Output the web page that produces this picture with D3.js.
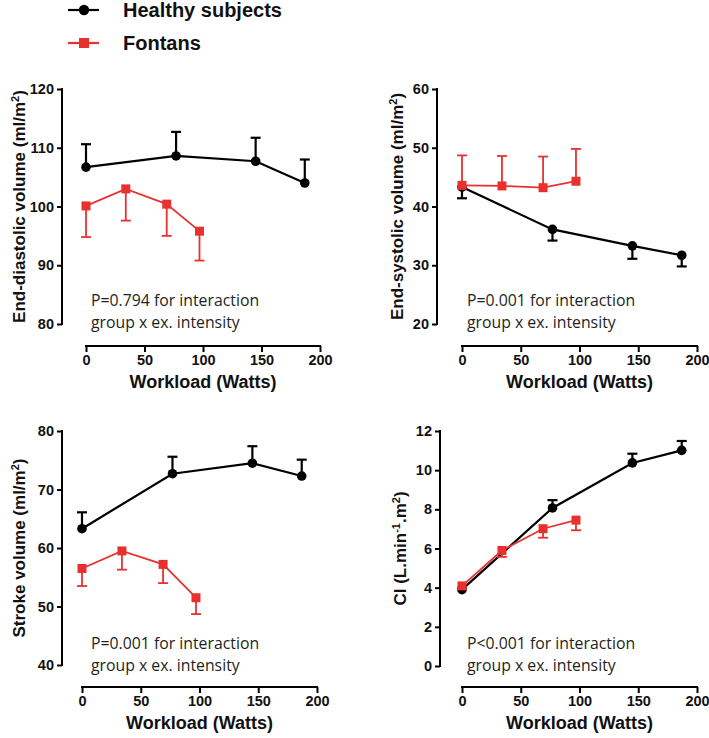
<!DOCTYPE html>
<html><head><meta charset="utf-8">
<script src="https://cdn.jsdelivr.net/npm/d3@7"></script>
<style>
html,body{margin:0;padding:0;background:#fff;}
svg{display:block;}
</style></head>
<body>
<script>
// ---- DATA ----
const seriesNames = ["Healthy subjects", "Fontans"];
const healthyWatts = [0, 77, 145, 187];
const fontanWatts = [0, 34, 69, 97];
const xTicks = [0, 50, 100, 150, 200];

// End-diastolic volume (ml/m2)
const edvHealthy = [106.7, 108.6, 107.7, 104.0];
const edvHealthyErr = [3.9, 4.1, 4.0, 4.0];
const edvFontan = [100.1, 103.0, 100.4, 95.8];
const edvFontanErr = [5.3, 5.4, 5.4, 5.0];
const edvTicks = [80, 90, 100, 110, 120];

// End-systolic volume (ml/m2)
const esvHealthy = [43.3, 36.1, 33.3, 31.7];
const esvHealthyErr = [1.9, 1.9, 2.2, 1.9];
const esvFontan = [43.6, 43.5, 43.2, 44.3];
const esvFontanErr = [5.1, 5.1, 5.3, 5.5];
const esvTicks = [20, 30, 40, 50, 60];

// Stroke volume (ml/m2)
const svHealthy = [63.3, 72.7, 74.5, 72.3];
const svHealthyErr = [2.8, 2.9, 2.9, 2.8];
const svFontan = [56.5, 59.5, 57.2, 51.5];
const svFontanErr = [3.0, 3.2, 3.2, 2.8];
const svTicks = [40, 50, 60, 70, 80];

// Cardiac index (L.min-1.m2)
const ciHealthy = [3.9, 8.07, 10.37, 11.01];
const ciHealthyErr = [0.1, 0.4, 0.47, 0.48];
const ciFontan = [4.09, 5.9, 7.01, 7.45];
const ciFontanErr = [0.1, 0.33, 0.46, 0.52];
const ciTicks = [0, 2, 4, 6, 8, 10, 12];

const annotations = [
  ["P=0.794 for interaction", "group x ex. intensity"],
  ["P=0.001 for interaction", "group x ex. intensity"],
  ["P=0.001 for interaction", "group x ex. intensity"],
  ["P<0.001 for interaction", "group x ex. intensity"]
];

// ---- LAYOUT ----
const W = 709, H = 738;
const BLACK = "#000", RED = "#e8312f";
const boldFont = "'Liberation Sans', Arial, Helvetica, sans-serif";
const noteFont = "'Open Sans', 'Noto Sans', sans-serif";

// hUp/fUp: error bar drawn upward (true) or downward (false)
const panels = [
  {yDom:[80,120], yTicks:edvTicks, yAxisX:62, yRange:[324,89], xAxisY:346, xRange:[86,320], labelX:19,
   label:[["End-diastolic volume (ml/m",0],["2",1],[")",0]],
   h:edvHealthy, hErr:edvHealthyErr, hUp:true, f:edvFontan, fErr:edvFontanErr, fUp:false, note:annotations[0], noteX:91, noteY:306},
  {yDom:[20,60], yTicks:esvTicks, yAxisX:437, yRange:[324,89], xAxisY:346, xRange:[462,697], labelX:397,
   label:[["End-systolic volume (ml/m",0],["2",1],[")",0]],
   h:esvHealthy, hErr:esvHealthyErr, hUp:false, f:esvFontan, fErr:esvFontanErr, fUp:true, note:annotations[1], noteX:467, noteY:306},
  {yDom:[40,80], yTicks:svTicks, yAxisX:62, yRange:[665,431], xAxisY:687, xRange:[82,317], labelX:19,
   label:[["Stroke volume (ml/m",0],["2",1],[")",0]],
   h:svHealthy, hErr:svHealthyErr, hUp:true, f:svFontan, fErr:svFontanErr, fUp:false, note:annotations[2], noteX:91, noteY:649},
  {yDom:[0,12], yTicks:ciTicks, yAxisX:440, yRange:[666,431], xAxisY:687, xRange:[462,697], labelX:400,
   label:[["CI (L.min",0],["-1",1],[".m",0],["2",1],[")",0]],
   h:ciHealthy, hErr:ciHealthyErr, hUp:true, f:ciFontan, fErr:ciFontanErr, fUp:false, note:annotations[3], noteX:467, noteY:649}
];

const svg = d3.select("body").append("svg").attr("width", W).attr("height", H);

// ---- LEGEND ----
const legend = svg.append("g");
[[seriesNames[0], BLACK, "circle", 10],[seriesNames[1], RED, "square", 43]].forEach(([name, col, shape, ly]) => {
  legend.append("line").attr("x1",68).attr("x2",99).attr("y1",ly).attr("y2",ly).attr("stroke",col).attr("stroke-width",2.2);
  if (shape==="circle") legend.append("circle").attr("cx",84).attr("cy",ly).attr("r",5.2).attr("fill",col);
  else legend.append("rect").attr("x",79).attr("y",ly-5).attr("width",10).attr("height",10).attr("fill",col);
  legend.append("text").attr("x",123).attr("y",ly).attr("dy","0.35em").attr("font-family",boldFont)
    .attr("font-weight","bold").attr("font-size",20).attr("fill","#111").text(name);
});

// ---- PANELS ----
panels.forEach(p => {
  const g = svg.append("g");
  const x = d3.scaleLinear().domain([0,200]).range(p.xRange);
  const y = d3.scaleLinear().domain(p.yDom).range(p.yRange);

  const yAxis = g.append("g").attr("transform", `translate(${p.yAxisX},0)`)
    .call(d3.axisLeft(y).tickValues(p.yTicks).tickSize(5).tickPadding(3).tickFormat(d3.format("d")));
  const xAxis = g.append("g").attr("transform", `translate(0,${p.xAxisY})`)
    .call(d3.axisBottom(x).tickValues(xTicks).tickSize(6).tickPadding(3).tickFormat(d3.format("d")));
  [yAxis, xAxis].forEach(a => {
    a.select(".domain").attr("stroke","#000").attr("stroke-width",2);
    a.selectAll(".tick line").attr("stroke","#000").attr("stroke-width",2);
    a.selectAll(".tick text").attr("font-family",boldFont).attr("font-weight","bold").attr("font-size",14.5).attr("fill","#111");
  });
  yAxis.select(".domain").attr("d", `M0,${p.yRange[0]+1}V${p.yRange[1]-1}`);
  xAxis.select(".domain").attr("d", `M${p.xRange[0]-1},0H${p.xRange[1]+1}`);

  // y label
  const yl = g.append("text").attr("transform", `translate(${p.labelX},${(p.yRange[0]+p.yRange[1])/2}) rotate(-90)`)
    .attr("text-anchor","middle").attr("dy","0.35em").attr("font-family",boldFont).attr("font-weight","bold")
    .attr("font-size",17).attr("fill","#111");
  p.label.forEach(([t, sup]) => {
    const ts = yl.append("tspan").text(t);
    if (sup) ts.attr("font-size",11).attr("baseline-shift","super");
  });

  // x label
  g.append("text").attr("x",(p.xRange[0]+p.xRange[1])/2).attr("y",p.xAxisY+42)
    .attr("text-anchor","middle").attr("font-family",boldFont).attr("font-weight","bold")
    .attr("font-size",18).attr("fill","#111").text("Workload (Watts)");

  // annotation
  const nt = g.append("text").attr("font-family",noteFont).attr("font-size",15.8).attr("fill","#231f20");
  nt.append("tspan").attr("x",p.noteX).attr("y",p.noteY).text(p.note[0]);
  nt.append("tspan").attr("x",p.noteX).attr("y",p.noteY+22).text(p.note[1]);

  // series
  const drawSeries = (xs, vals, errs, up, col, shape, lw) => {
    const pts = xs.map((w,i)=>({w, v:vals[i], e:errs[i]}));
    const end = d => y(up ? d.v + d.e : d.v - d.e);
    const sg = g.append("g");
    sg.selectAll("line.err").data(pts).join("line").attr("class","err")
      .attr("x1",d=>x(d.w)).attr("x2",d=>x(d.w)).attr("y1",d=>y(d.v)).attr("y2",end)
      .attr("stroke",col).attr("stroke-width",lw);
    sg.selectAll("line.cap").data(pts).join("line").attr("class","cap")
      .attr("x1",d=>x(d.w)-5).attr("x2",d=>x(d.w)+5).attr("y1",end).attr("y2",end)
      .attr("stroke",col).attr("stroke-width",lw);
    sg.append("path").datum(pts).attr("fill","none").attr("stroke",col).attr("stroke-width",lw)
      .attr("d", d3.line().x(d=>x(d.w)).y(d=>y(d.v)));
    if (shape==="circle") {
      sg.selectAll("circle").data(pts).join("circle").attr("cx",d=>x(d.w)).attr("cy",d=>y(d.v)).attr("r",4.8).attr("fill",col);
    } else {
      sg.selectAll("rect").data(pts).join("rect").attr("x",d=>x(d.w)-4.5).attr("y",d=>y(d.v)-4.5)
        .attr("width",9).attr("height",9).attr("fill",col);
    }
  };
  drawSeries(healthyWatts, p.h, p.hErr, p.hUp, BLACK, "circle", 2.2);
  drawSeries(fontanWatts, p.f, p.fErr, p.fUp, RED, "square", 1.8);
});
</script>
</body></html>
